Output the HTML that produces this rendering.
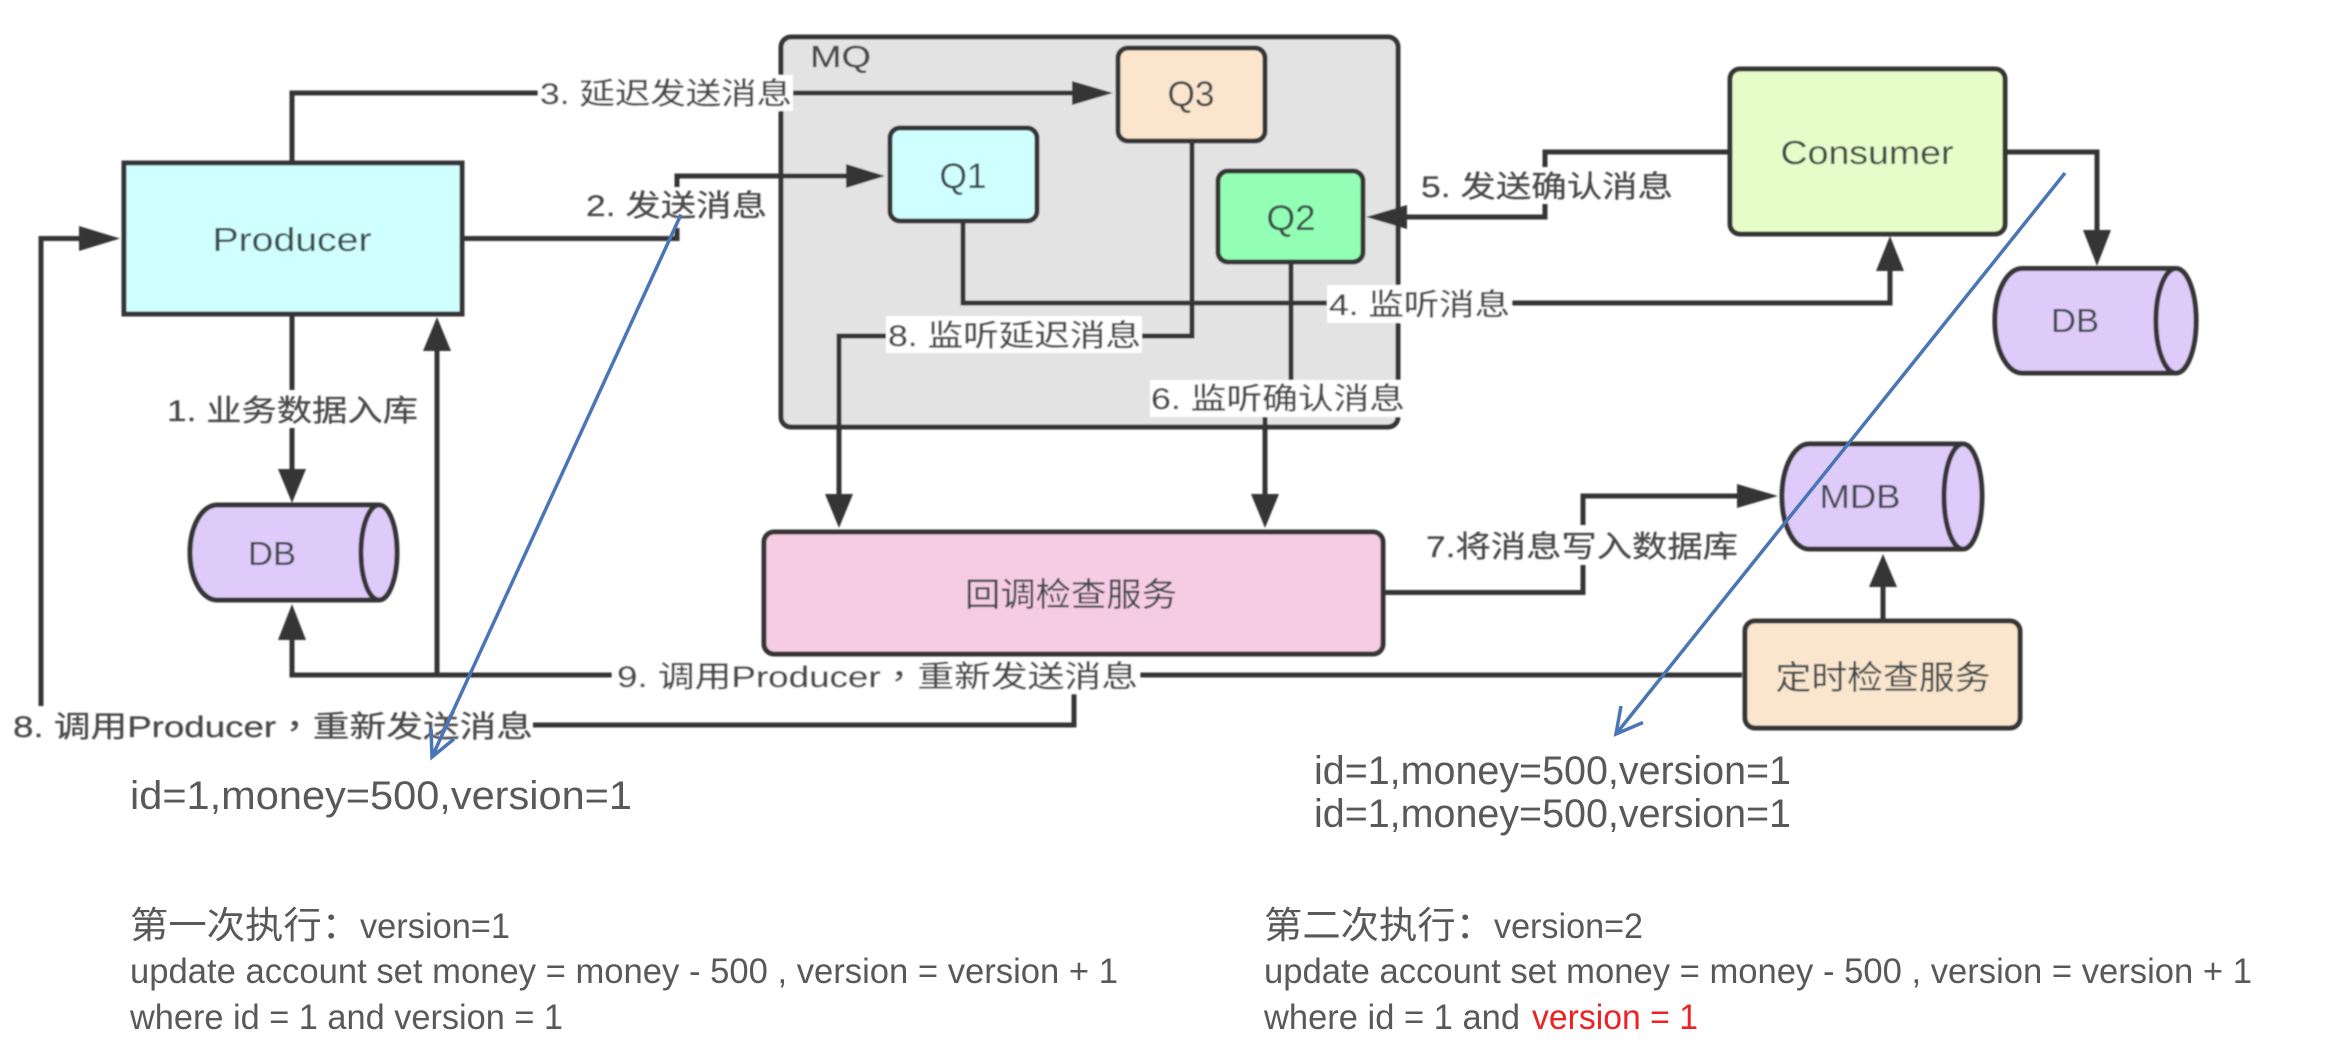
<!DOCTYPE html>
<html><head><meta charset="utf-8"><style>
html,body{margin:0;padding:0;background:#fff;width:2328px;height:1057px;overflow:hidden}
svg{display:block}
text{font-family:"Liberation Sans","Noto Sans CJK SC",sans-serif}
.l{font-size:30px;fill:#484848;stroke:#484848;stroke-width:.25}
.n{font-size:33px;fill:#3c4a4a;text-anchor:middle}
.q{font-size:35px}
.t{fill:#595959;font-size:40px}
.u{fill:#595959;font-size:35px}
.b{fill:#fff}
.s{fill:none;stroke:#363636;stroke-width:5}
.box{stroke:#363636;stroke-width:5}
.a{fill:#363636}
.blue{fill:none;stroke:#4a76b8;stroke-width:3.5}
.tc{font-family:"Noto Sans CJK TC",sans-serif}
</style></head><body>
<svg width="2328" height="1057" viewBox="0 0 2328 1057" xmlns="http://www.w3.org/2000/svg">
<defs><filter id="f" filterUnits="userSpaceOnUse" x="0" y="0" width="2328" height="1057"><feGaussianBlur stdDeviation="0.8"/></filter></defs>
<g filter="url(#f)">
<rect class="box" x="781" y="37" width="617" height="390" rx="10" fill="#e3e3e3"/>
<text class="l" x="810" y="67" textLength="61" lengthAdjust="spacingAndGlyphs" style="font-size:31px">MQ</text>

<path class="s" d="M292 163V93H540M793 93H1080"/>
<path class="s" d="M462 238.500H677V228M677 187V176H855"/>
<path class="s" d="M292 314V390M292 428V475"/>
<path class="s" d="M41 706V238.500H85"/>
<path class="s" d="M533 725H1074V694"/>
<path class="s" d="M1742 675H292V635M437 675V345"/>
<path class="s" d="M963 221V303H1327M1510 303H1890V265"/>
<path class="s" d="M1192 141V336H1141M886 336H839V500"/>
<path class="s" d="M1291 262V381M1265 417V500"/>
<path class="s" d="M1730 152H1545V167M1545 204V217H1400"/>
<path class="s" d="M2005 152H2097V236"/>
<path class="s" d="M1383 592.500H1583V565M1583 525V496H1745"/>
<path class="s" d="M1883 621V580"/>

<path class="a" d="M1113 93L1072 81V105Z"/>
<path class="a" d="M885 176L846 164V188Z"/>
<path class="a" d="M120 238.500L79 226V251Z"/>
<path class="a" d="M292 503L278 469H306Z"/>
<path class="a" d="M292 604L278 640H306Z"/>
<path class="a" d="M437 317L423 351H451Z"/>
<path class="a" d="M1890 236L1876 271H1904Z"/>
<path class="a" d="M1366 217L1407 205V229Z"/>
<path class="a" d="M839 528L825 494H853Z"/>
<path class="a" d="M1265 528L1251 494H1279Z"/>
<path class="a" d="M2097 266L2083 230H2111Z"/>
<path class="a" d="M1778 496L1737 484V508Z"/>
<path class="a" d="M1883 554L1869 587H1897Z"/>

<rect class="box" x="124" y="163" width="338" height="151" fill="#d0ffff"/>
<rect class="box" x="1118" y="48" width="147" height="93" rx="10" fill="#fbe5cd"/>
<rect class="box" x="890" y="128" width="147" height="93" rx="10" fill="#d0ffff"/>
<rect class="box" x="1218" y="171" width="145" height="91" rx="10" fill="#92ffb5"/>
<rect class="box" x="1730" y="69" width="275" height="165" rx="10" fill="#e6fdc9"/>
<rect class="box" x="764" y="532" width="619" height="122" rx="10" fill="#f6cce4"/>
<rect class="box" x="1745" y="621" width="275" height="107" rx="10" fill="#fae5cd"/>

<path class="box" fill="#dfcbfa" d="M217 505H379A18 47.500 0 0 1 379 600H217A27 47.500 0 0 1 217 505Z"/>
<path class="s" d="M379 505A18 47.500 0 0 0 379 600"/>
<path class="box" fill="#dfcbfa" d="M2022 268.500H2176A20 52 0 0 1 2176 373H2022A27 52 0 0 1 2022 268.500Z"/>
<path class="s" d="M2176 268.500A20 52 0 0 0 2176 373"/>
<path class="box" fill="#dfcbfa" d="M1809 444H1963A19 52.500 0 0 1 1963 549H1809A27 52.500 0 0 1 1809 444Z"/>
<path class="s" d="M1963 444A19 52.500 0 0 0 1963 549"/>

<text class="n" x="292" y="251" textLength="159" lengthAdjust="spacingAndGlyphs">Producer</text>
<text class="n" x="1867" y="164" textLength="173" lengthAdjust="spacingAndGlyphs">Consumer</text>
<text class="n q" x="1191" y="106" textLength="47" lengthAdjust="spacingAndGlyphs">Q3</text>
<text class="n q" x="963" y="188" textLength="47" lengthAdjust="spacingAndGlyphs">Q1</text>
<text class="n q" x="1291" y="230" textLength="49" lengthAdjust="spacingAndGlyphs">Q2</text>
<text class="n" x="272" y="565" textLength="48" lengthAdjust="spacingAndGlyphs">DB</text>
<text class="n" x="2075" y="332" textLength="48" lengthAdjust="spacingAndGlyphs">DB</text>
<text class="n" x="1860" y="508" textLength="81" lengthAdjust="spacingAndGlyphs">MDB</text>
<text class="n" x="1071" y="606" textLength="212" lengthAdjust="spacingAndGlyphs">回调检查服务</text>
<text class="n" x="1883" y="689" textLength="215" lengthAdjust="spacingAndGlyphs">定时检查服务</text>

<rect class="b" x="538" y="75" width="255" height="36"/>
<rect class="b" x="1327" y="285" width="185" height="38"/>
<rect class="b" x="886" y="316" width="256" height="37"/>
<rect class="b" x="1150" y="380" width="255" height="37"/>
<rect class="b" x="612" y="660" width="528" height="34"/>
<text class="l" x="167" y="421" textLength="251" lengthAdjust="spacingAndGlyphs">1. 业务数据入库</text>
<text class="l" x="586" y="216" textLength="181" lengthAdjust="spacingAndGlyphs">2. 发送消息</text>
<text class="l" x="540" y="104" textLength="252" lengthAdjust="spacingAndGlyphs">3. 延迟发送消息</text>
<text class="l" x="1329" y="315" textLength="181" lengthAdjust="spacingAndGlyphs">4. 监听消息</text>
<text class="l" x="1421" y="197" textLength="252" lengthAdjust="spacingAndGlyphs">5. 发送确认消息</text>
<text class="l" x="1151" y="409" textLength="254" lengthAdjust="spacingAndGlyphs">6. 监听确认消息</text>
<text class="l" x="1426" y="557" textLength="312" lengthAdjust="spacingAndGlyphs">7.将消息写入数据库</text>
<text class="l" x="888" y="346" textLength="253" lengthAdjust="spacingAndGlyphs">8. 监听延迟消息</text>
<text class="l" x="13" y="737" textLength="520" lengthAdjust="spacingAndGlyphs">8. 调用Producer<tspan class="tc">，</tspan>重新发送消息</text>
<text class="l" x="617" y="687" textLength="521" lengthAdjust="spacingAndGlyphs">9. 调用Producer<tspan class="tc">，</tspan>重新发送消息</text>
</g>

<path class="blue" d="M681 214.500L432 757M431 729L432 757L454 739"/>
<path class="blue" d="M2065 173L1616 734M1621 706L1616 734L1643 722.500"/>

<text class="t" x="130" y="809" textLength="502" lengthAdjust="spacingAndGlyphs">id=1,money=500,version=1</text>
<text class="t" x="1314" y="784" textLength="477" lengthAdjust="spacingAndGlyphs">id=1,money=500,version=1</text>
<text class="t" x="1314" y="827" textLength="477" lengthAdjust="spacingAndGlyphs">id=1,money=500,version=1</text>
<text class="u" x="130" y="938" textLength="230" lengthAdjust="spacingAndGlyphs" style="font-size:37px">第一次执行：</text>
<text class="u" x="360" y="938" textLength="150" lengthAdjust="spacingAndGlyphs">version=1</text>
<text class="u" x="130" y="983" textLength="988" lengthAdjust="spacingAndGlyphs">update account set money = money - 500 , version = version + 1</text>
<text class="u" x="130" y="1029" textLength="433" lengthAdjust="spacingAndGlyphs">where id = 1 and version = 1</text>
<text class="u" x="1264" y="938" textLength="230" lengthAdjust="spacingAndGlyphs" style="font-size:37px">第二次执行：</text>
<text class="u" x="1494" y="938" textLength="149" lengthAdjust="spacingAndGlyphs">version=2</text>
<text class="u" x="1264" y="983" textLength="988" lengthAdjust="spacingAndGlyphs">update account set money = money - 500 , version = version + 1</text>
<text class="u" x="1264" y="1029" textLength="256" lengthAdjust="spacingAndGlyphs">where id = 1 and</text>
<text class="u" x="1532" y="1029" textLength="166" lengthAdjust="spacingAndGlyphs" style="fill:#ee2222">version = 1</text>
</svg>
</body></html>
